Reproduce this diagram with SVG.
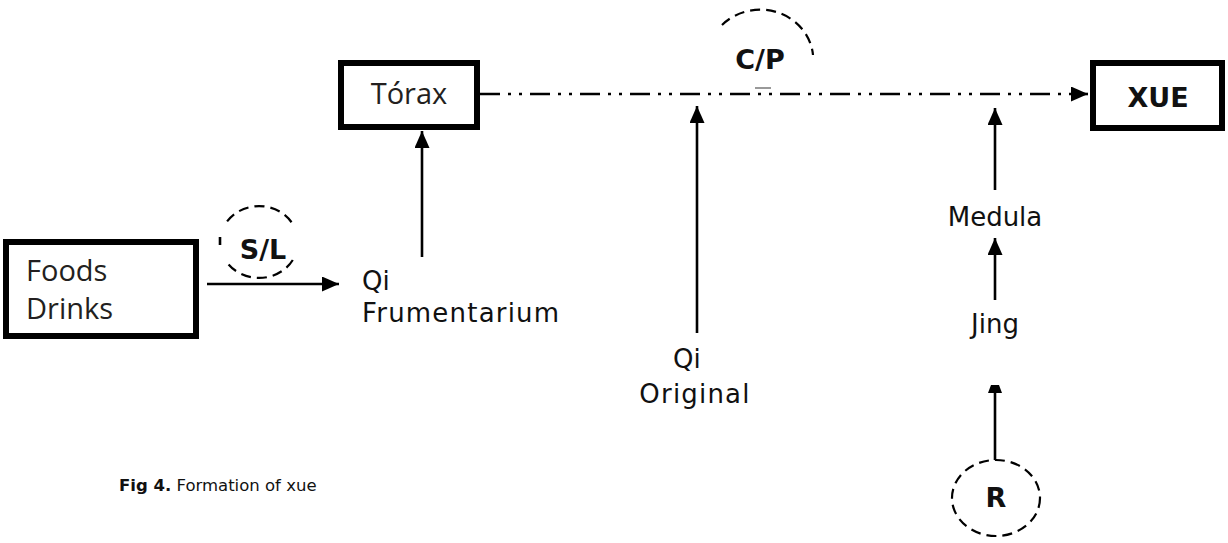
<svg xmlns="http://www.w3.org/2000/svg" width="1228" height="543" viewBox="0 0 1228 543">
<style>
.box{fill:#fff;stroke:#000;stroke-width:6}
.t{font-family:"Open Sans","DejaVu Sans",sans-serif;font-size:29px;fill:#231f20}
.l{font-family:"DejaVu Sans","Liberation Sans",sans-serif;font-size:26px;fill:#111}
.b{font-family:"DejaVu Sans","Liberation Sans",sans-serif;font-weight:bold;font-size:27px;fill:#111}
.ln{stroke:#000;stroke-width:2.6;fill:none}
.dd{stroke:#000;stroke-width:2.2;fill:none;stroke-dasharray:10 6}
.cap{font-family:"DejaVu Sans","Liberation Sans",sans-serif;font-size:16.5px;fill:#111}
</style>
<defs>
<marker id="ah" markerUnits="userSpaceOnUse" markerWidth="17" markerHeight="15" refX="17" refY="7.5" orient="auto">
<path d="M0,0 L17,7.5 L0,15 Z" fill="#000"/>
</marker>
</defs>
<rect width="1228" height="543" fill="#fff"/>
<g id="connectors">
<line class="ln" x1="207" y1="284" x2="339" y2="284" marker-end="url(#ah)"/>
<line class="ln" x1="422" y1="257" x2="422" y2="131" marker-end="url(#ah)"/>
<line class="ln" x1="697" y1="333" x2="697" y2="106" marker-end="url(#ah)"/>
<line class="ln" x1="995" y1="190" x2="995" y2="108" marker-end="url(#ah)"/>
<line class="ln" x1="995" y1="300" x2="995" y2="238" marker-end="url(#ah)"/>
<line class="ln" x1="995" y1="460" x2="995" y2="392"/>
<polygon points="991,385 999,385 1002,393 988,393" fill="#000"/>
<line x1="480" y1="94" x2="1072" y2="94" stroke="#000" stroke-width="2.6" stroke-dasharray="20 8 3 8 3 8"/>
<line x1="1072" y1="94" x2="1088" y2="94" stroke="#000" stroke-width="2.6" marker-end="url(#ah)"/>
</g>
<g id="foods">
<rect class="box" x="6" y="242" width="190" height="94"/>
<text class="t" x="26" y="281">Foods</text>
<text class="t" x="26" y="319">Drinks</text>
</g>
<g id="sl">
<path class="dd" d="M227.1,221.4 A39,36 0 0 1 294.3,226.8"/>
<path class="dd" d="M292.8,260 A39,36 0 0 1 227.1,262.6"/>
<line class="ln" x1="220" y1="237" x2="220" y2="245" stroke-width="1.5"/>
<text class="b" x="263" y="259" text-anchor="middle" font-size="29">S/L</text>
</g>
<g id="qif">
<text class="l" x="362" y="290">Qi</text>
<text class="l" x="362" y="322" letter-spacing="1.2">Frumentarium</text>
</g>
<g id="torax">
<rect class="box" x="341" y="63" width="136" height="64"/>
<text class="t" x="409" y="104" text-anchor="middle" font-size="30">Tórax</text>
</g>
<g id="cp">
<path class="dd" d="M722,25 A53,50 0 0 1 813,55"/>
<line x1="755" y1="88" x2="771" y2="88" stroke="#555" stroke-width="1.2"/>
<text class="b" x="760" y="69" text-anchor="middle" font-size="30">C/P</text>
</g>
<g id="xue">
<rect class="box" x="1093" y="63" width="129" height="65"/>
<text class="b" x="1158" y="107" text-anchor="middle">XUE</text>
</g>
<g id="qio">
<text class="l" x="673" y="368">Qi</text>
<text class="l" x="695" y="403" text-anchor="middle" letter-spacing="1.2">Original</text>
</g>
<g id="medula">
<text class="l" x="995" y="226" text-anchor="middle">Medula</text>
</g>
<g id="jing">
<text class="l" x="995" y="333" text-anchor="middle">Jing</text>
</g>
<g id="r">
<ellipse class="dd" cx="996" cy="498" rx="44" ry="38"/>
<text class="b" x="996" y="507" text-anchor="middle" font-size="25">R</text>
</g>
<g id="caption">
<text class="cap" x="119" y="491"><tspan font-weight="bold">Fig 4.</tspan> Formation of xue</text>
</g>
</svg>
